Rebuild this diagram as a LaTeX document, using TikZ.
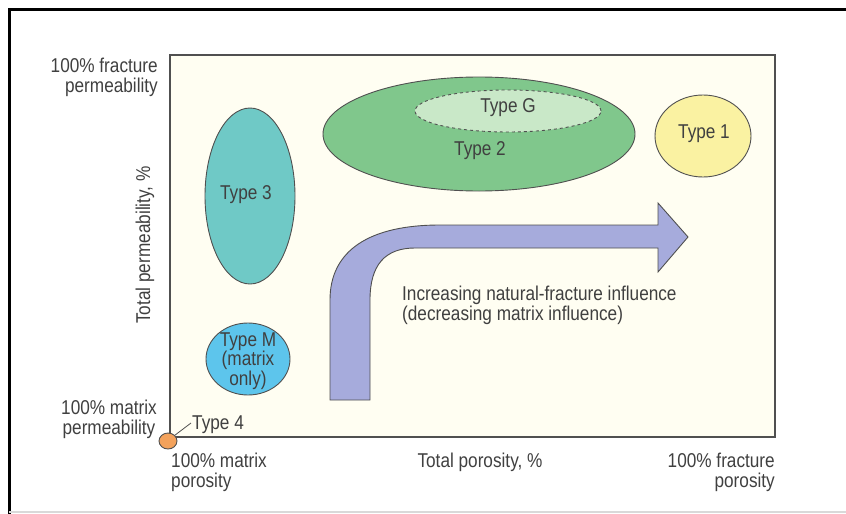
\documentclass[tikz,border=0pt]{standalone}
\usepackage{fontspec}
\setmainfont{Liberation Sans}[FakeStretch=0.86]
\usetikzlibrary{shapes.geometric}
\definecolor{txt}{HTML}{404040}
\definecolor{cream}{HTML}{FFFEF2}
\definecolor{ctwo}{HTML}{80C78C}
\definecolor{cG}{HTML}{C9E8C8}
\definecolor{cone}{HTML}{FAF2A2}
\definecolor{cthree}{HTML}{6FC9C6}
\definecolor{cM}{HTML}{5DC5EC}
\definecolor{carrow}{HTML}{A6ABDC}
\definecolor{cfour}{HTML}{F3A25C}
\definecolor{edge}{HTML}{505050}
\tikzset{
  lbl/.style={text=txt, font=\fontsize{20}{20}\selectfont, inner sep=0pt},
  blob/.style={ellipse, draw=edge, line width=0.9pt, inner sep=0pt},
}
\begin{document}
\begin{tikzpicture}[x=1pt,y=-1pt]
\useasboundingbox (0,0) rectangle (846,514);
% outer frame
\draw[line width=3pt] (9,514) -- (9,9) -- (846,9);
\draw[black!15, line width=1.5pt] (9,512) -- (846,512);
% plot area
\draw[fill=cream, draw=edge, line width=1.2pt] (170,55) rectangle (775,437);
% ellipses
\node[blob, fill=ctwo, minimum width=312pt, minimum height=114pt] (t2) at (479,134) {};
\node[blob, fill=cG, dashed, minimum width=186pt, minimum height=42pt] (tG) at (508,111) {};
\node[lbl] (tGl) at (508,108) {Type G};
\node[lbl] (t2l) at (480,151) {Type 2};
\node[blob, fill=cone, minimum width=96pt, minimum height=82pt] (t1) at (703,136) {};
\node[lbl] at (704,134) {Type 1};
\node[blob, fill=cthree, minimum width=90pt, minimum height=176pt] (t3) at (250,196) {};
\node[lbl] at (246,195) {Type 3};
\node[blob, fill=cM, minimum width=84pt, minimum height=72pt] (tM) at (248,359) {};
\node[lbl, align=center, font=\fontsize{20}{17.5}\selectfont] at (248,361) {Type M\\(matrix\\only)};
% arrow
\draw[fill=carrow, draw=edge, line width=0.9pt, line join=miter]
  (330,400) -- (330,300) .. controls (330,250) and (370,225) .. (440,225)
  -- (658,225) -- (658,203) -- (688,237) -- (658,272) -- (658,248)
  -- (415,248) .. controls (385,248) and (370,265) .. (370,300)
  -- (370,400) -- cycle;
\node[lbl, align=left, anchor=north west] (arrl) at (402,286) {Increasing natural-fracture influence\\(decreasing matrix influence)};
% type 4
\node[lbl, anchor=west] (t4l) at (192,425) {Type 4};
\node[ellipse, draw=edge, fill=cfour, line width=0.9pt, minimum width=18pt, minimum height=16pt, inner sep=0pt] (t4) at (168,441) {};
\draw[edge, line width=0.8pt] (t4.40) -- ([xshift=-1pt,yshift=2pt]t4l.west);
% axis labels
\node[lbl, align=right, anchor=north east] (yt) at (158,58) {100\% fracture\\permeability};
\node[lbl, align=center, anchor=south] (yb) at (109,439) {100\% matrix\\permeability};
\node[lbl, rotate=90] (ylab) at (145,245) {Total permeability, \%};
\node[lbl, align=left, anchor=north west] (xl) at (171,453) {100\% matrix\\porosity};
\node[lbl] (xlab) at (480,462) {Total porosity, \%};
\node[lbl, align=right, anchor=north east] (xr) at (775,453) {100\% fracture\\porosity};
\end{tikzpicture}
\end{document}
